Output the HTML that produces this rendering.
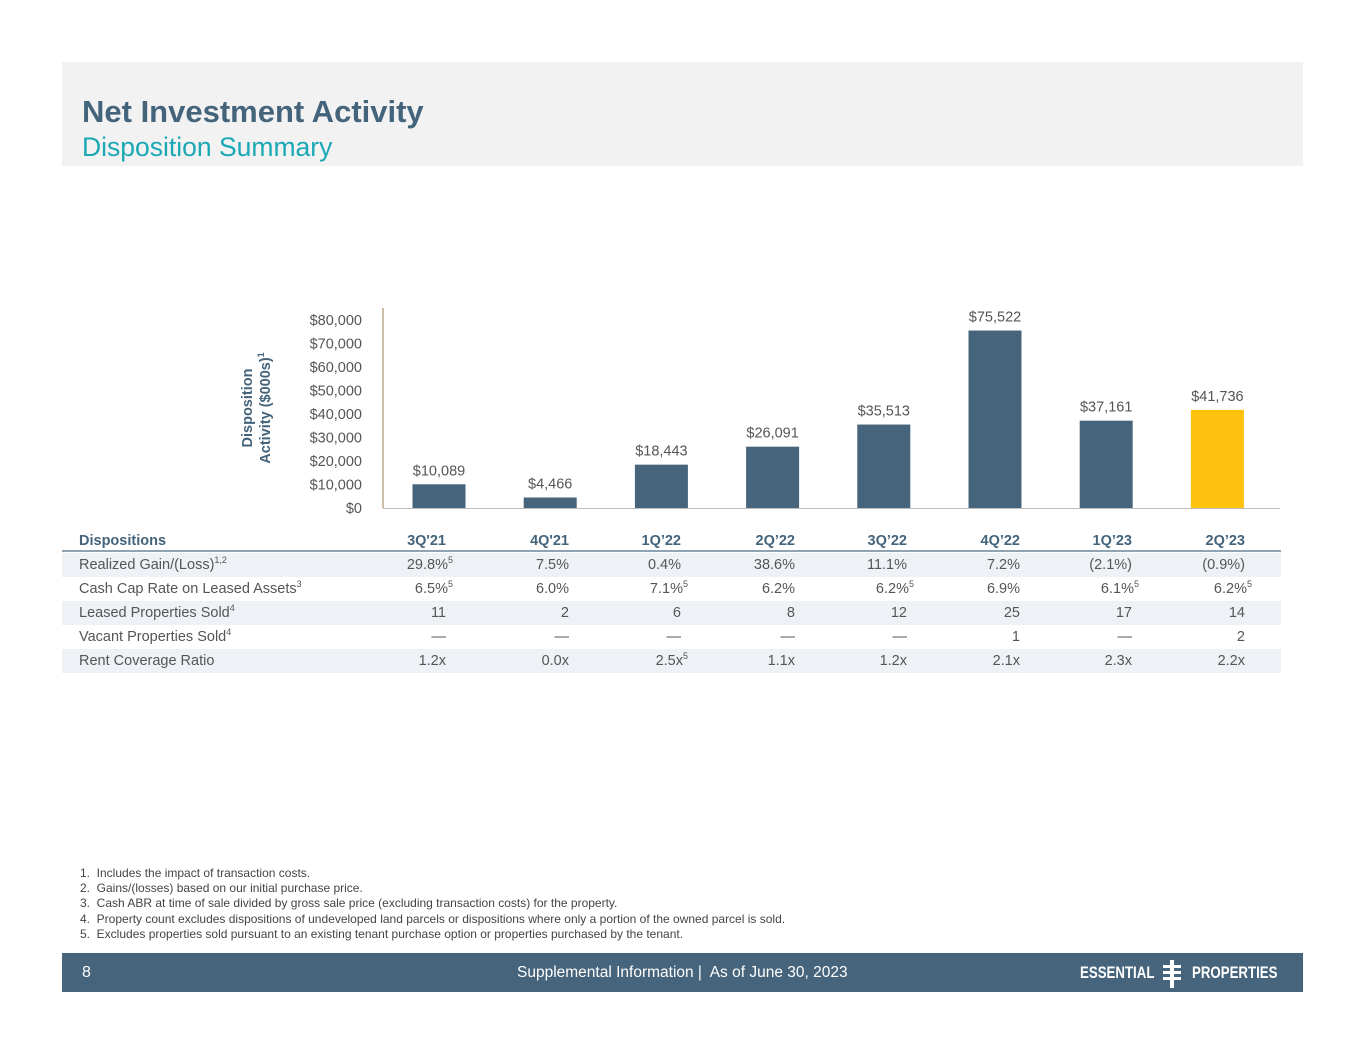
<!DOCTYPE html>
<html><head><meta charset="utf-8"><style>
body{margin:0;width:1365px;height:1055px;background:#fff;font-family:"Liberation Sans",Arial,sans-serif;position:relative;overflow:hidden}
.abs{position:absolute}
.hdr{left:62px;top:62px;width:1241px;height:104px;background:#f2f2f2}
.t1{left:82px;top:94px;font-size:31px;font-weight:bold;color:#44647c}
.t2{left:82px;top:132px;font-size:26.5px;color:#1ba8b5}
.row{position:absolute;left:62px;width:1219px;height:24px;font-size:14.5px;color:#555;}
.row.sh{background:#eef2f6}
.row span{position:absolute;top:4px;white-space:nowrap}
.row .lab{left:17px}
.row.h{color:#44647c;font-weight:bold}
sup{font-size:9px;position:relative;top:-2px;vertical-align:top}
.foot{left:62px;top:953px;width:1241px;height:39px;background:#46647b;color:#fff}
.notes{left:80px;top:866px;font-size:12px;color:#444;line-height:15.2px}
</style></head><body>
<div class="abs hdr"></div>
<div class="abs t1">Net Investment Activity</div>
<div class="abs t2">Disposition Summary</div>
<svg class="abs" style="left:0;top:0" width="1365" height="530" id="chart"></svg>
<div id="table"></div>
<div class="abs notes">
1.&nbsp; Includes the impact of transaction costs.<br>
2.&nbsp; Gains/(losses) based on our initial purchase price.<br>
3.&nbsp; Cash ABR at time of sale divided by gross sale price (excluding transaction costs) for the property.<br>
4.&nbsp; Property count excludes dispositions of undeveloped land parcels or dispositions where only a portion of the owned parcel is sold.<br>
5.&nbsp; Excludes properties sold pursuant to an existing tenant purchase option or properties purchased by the tenant.</div>
<div class="abs foot">
<span class="abs" style="left:20px;top:11px;font-size:16px">8</span>
<span class="abs" style="left:455px;top:11px;font-size:15.5px">Supplemental Information |&nbsp; As of June 30, 2023</span>
<span class="abs" style="left:1018px;top:10px;font-size:17px;font-weight:bold;transform:scaleX(0.78);transform-origin:left">ESSENTIAL</span>
<svg class="abs" style="left:1098px;top:5px" width="26" height="32"><rect x="10" y="2" width="4" height="28" fill="#fff"/><rect x="3" y="7" width="18" height="3" fill="#fff"/><rect x="3" y="13" width="18" height="3" fill="#fff"/><rect x="3" y="19" width="18" height="3" fill="#fff"/></svg>
<span class="abs" style="left:1130px;top:10px;font-size:17px;font-weight:bold;transform:scaleX(0.78);transform-origin:left">PROPERTIES</span>
</div>
<script>
const categories=["3Q'21","4Q'21","1Q\u201922","2Q\u201922","3Q\u201922","4Q\u201922","1Q\u201923","2Q\u201923"];
const values=[10089,4466,18443,26091,35513,75522,37161,41736];
const ticks=[0,10000,20000,30000,40000,50000,60000,70000,80000];
const NS="http://www.w3.org/2000/svg";
const svg=document.getElementById('chart');
const y0=508,yTop=320,vMax=80000;
const y=v=>y0-(v/vMax)*(y0-yTop);
const x=i=>439+i*111.2;
function mk(t,a){const e=document.createElementNS(NS,t);for(const k in a)e.setAttribute(k,a[k]);svg.appendChild(e);return e;}
const fmt=v=>'$'+v.toLocaleString('en-US');
ticks.forEach(t=>{const e=mk('text',{x:362,y:y(t)+5,'text-anchor':'end','font-size':'14.5','fill':'#555','font-family':'Liberation Sans, sans-serif'});e.textContent=fmt(t);

});
values.forEach((v,i)=>{const r=mk('rect',{x:x(i)-26.5,y:y(v),width:53,height:y0-y(v),fill:i==values.length-1?'#fdc10e':'#46647b'});


const t=mk('text',{x:x(i),y:y(v)-9,'text-anchor':'middle','font-size':'14.5','fill':'#555','font-family':'Liberation Sans, sans-serif'});t.textContent=fmt(v);

});
let ax=mk('line',{x1:383,y1:308,x2:383,y2:508,stroke:'#b8a88c','stroke-width':1.5});


let bx=mk('line',{x1:383,y1:508.5,x2:1280,y2:508.5,stroke:'#bbb','stroke-width':1});


let g=mk('text',{transform:'translate(252,408) rotate(-90)','text-anchor':'middle','font-size':'14.5','font-weight':'bold',fill:'#44647c','font-family':'Liberation Sans, sans-serif'});


g.innerHTML='<tspan x="0" dy="0">Disposition</tspan><tspan x="0" dy="18">Activity ($000s)</tspan><tspan dy="-6" font-size="9">1</tspan>';

const rights=[446,569,681,795,907,1020,1132,1245];
const rows=[
 ["Dispositions",categories,true],
 ["Realized Gain/(Loss)<sup>1,2</sup>",["29.8%<sup>5</sup>","7.5%","0.4%","38.6%","11.1%","7.2%","(2.1%)","(0.9%)"]],
 ["Cash Cap Rate on Leased Assets<sup>3</sup>",["6.5%<sup>5</sup>","6.0%","7.1%<sup>5</sup>","6.2%","6.2%<sup>5</sup>","6.9%","6.1%<sup>5</sup>","6.2%<sup>5</sup>"]],
 ["Leased Properties Sold<sup>4</sup>",["11","2","6","8","12","25","17","14"]],
 ["Vacant Properties Sold<sup>4</sup>",["\u2014","\u2014","\u2014","\u2014","\u2014","1","\u2014","2"]],
 ["Rent Coverage Ratio",["1.2x","0.0x","2.5x<sup>5</sup>","1.1x","1.2x","2.1x","2.3x","2.2x"]]];
const tb=document.getElementById('table');
rows.forEach((r,ri)=>{const d=document.createElement('div');d.className='row'+(ri==0?' h':'')+(ri%2==1?' sh':'');
d.style.top=(ri==0?529:553+(ri-1)*24)+'px';


let h='<span class="lab">'+r[0]+'</span>';
r[1].forEach((c,ci)=>{const sup=c.indexOf('<sup>')>=0;h+='<span style="right:'+(1219-(rights[ci]-62)-(sup?7:0))+'px">'+c+'</span>';});
d.innerHTML=h;tb.appendChild(d);
if(ri==0){const l=document.createElement('div');l.className='abs';l.style.cssText='left:62px;top:550px;width:1219px;height:2px;background:#8fa3b3';


tb.appendChild(l);}
});
</script>
</body></html>
